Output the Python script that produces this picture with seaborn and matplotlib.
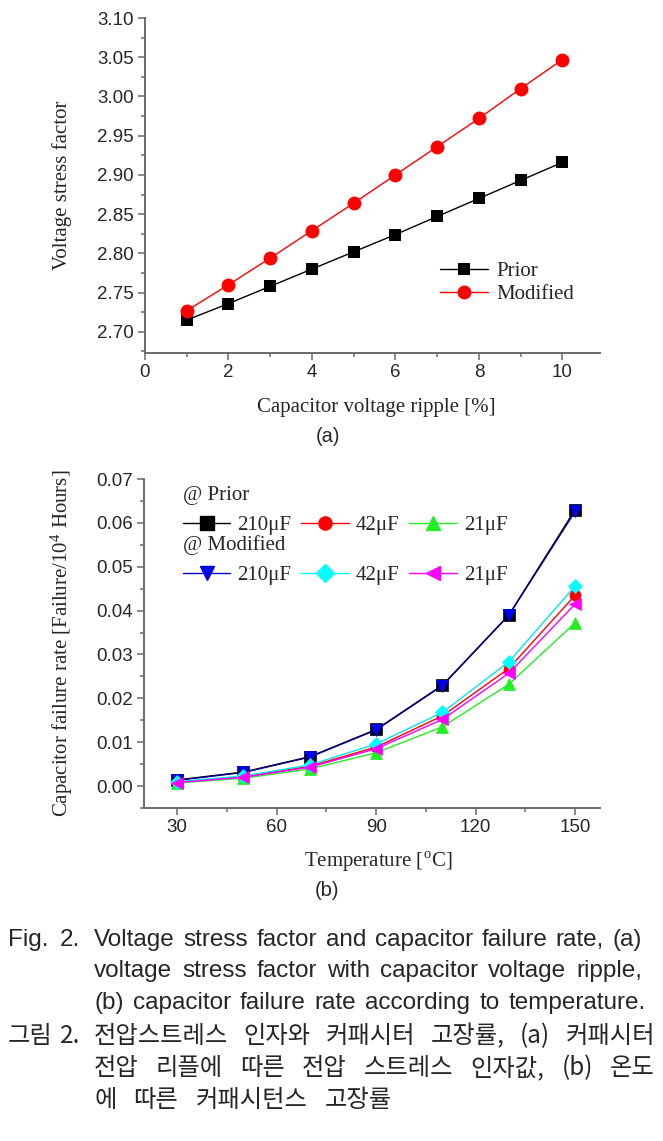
import numpy as np
import pandas as pd
import seaborn as sns
import matplotlib.pyplot as plt
from matplotlib.ticker import MultipleLocator
from matplotlib.lines import Line2D

# ---- data (a): voltage stress factor vs ripple
ripple = [1, 2, 3, 4, 5, 6, 7, 8, 9, 10]
vsf_prior = [2.715, 2.736, 2.758, 2.780, 2.802, 2.824, 2.847, 2.870, 2.893, 2.916]
vsf_modified = [2.727, 2.760, 2.794, 2.829, 2.864, 2.900, 2.936, 2.972, 3.010, 3.047]

# ---- data (b): failure rate vs temperature
temp = [30, 50, 70, 90, 110, 130, 150]
prior_210 = [0.0014, 0.0032, 0.0067, 0.0129, 0.0230, 0.0390, 0.0630]
prior_42 = [0.0009, 0.0021, 0.0045, 0.0089, 0.0160, 0.0268, 0.0435]
prior_21 = [0.0007, 0.0018, 0.0039, 0.0076, 0.0135, 0.0232, 0.0372]
mod_210 = [0.0013, 0.0031, 0.0066, 0.0128, 0.0229, 0.0389, 0.0626]
mod_42 = [0.0010, 0.0023, 0.0048, 0.0096, 0.0168, 0.0283, 0.0456]
mod_21 = [0.0008, 0.0020, 0.0043, 0.0085, 0.0152, 0.0257, 0.0415]
cap_labels = ['210\u03bcF', '42\u03bcF', '21\u03bcF']

caption = [
    ('Fig.', '2.', 'Voltage stress factor and capacitor failure rate, (a)'),
    ('', '', 'voltage stress factor with capacitor voltage ripple,'),
    ('', '', '(b) capacitor failure rate according to temperature.'),
    ('그림', '2.', '전압스트레스 인자와 커패시터 고장률, (a) 커패시터'),
    ('', '', '전압 리플에 따른 전압 스트레스 인자값, (b) 온도'),
    ('', '', '에 따른 커패시턴스 고장률'),
]

sns.set_style('ticks')
plt.rcParams['font.family'] = ['Liberation Serif', 'DejaVu Sans']
plt.rcParams['mathtext.fontset'] = 'stix'

SPINE = '#6a6a6a'
LBL = 15
fig = plt.figure(figsize=(6.63, 11.41), dpi=100)
W, H = 663, 1141


def px_axes(l, t, r, b):
    return fig.add_axes([l / W, 1 - b / H, (r - l) / W, (b - t) / H])


def style_axes(ax):
    for s in ['top', 'right']:
        ax.spines[s].set_visible(False)
    for s in ['left', 'bottom']:
        ax.spines[s].set_color(SPINE)
        ax.spines[s].set_linewidth(1.4)
    ax.tick_params(which='major', direction='out', length=5, width=1.1, color=SPINE,
                   labelsize=13.5, pad=3)
    ax.tick_params(which='minor', direction='out', length=3, width=1.1, color=SPINE)
    for lab in ax.get_xticklabels() + ax.get_yticklabels():
        lab.set_fontfamily('Liberation Sans')


# ================= (a)
ax1 = px_axes(145, 18, 600, 353)
sns.lineplot(x=ripple, y=vsf_prior, ax=ax1, color='black', marker='s', markersize=9,
             markeredgewidth=0, linewidth=1, label='Prior')
sns.lineplot(x=ripple, y=vsf_modified, ax=ax1, color='red', marker='o', markersize=10,
             markeredgewidth=0, linewidth=1, label='Modified')
ax1.set_xlim(0, 10.9)
ax1.set_ylim(2.673, 3.10)
ax1.xaxis.set_major_locator(MultipleLocator(2))
ax1.xaxis.set_minor_locator(MultipleLocator(1))
ax1.yaxis.set_minor_locator(MultipleLocator(0.025))
ax1.set_yticks(np.arange(2.70, 3.101, 0.05))
ax1.set_yticklabels([f'{v:.2f}' for v in np.arange(2.70, 3.101, 0.05)])
style_axes(ax1)
ax1.set_xlabel('Capacitor voltage ripple [%]', fontsize=LBL)
ax1.set_ylabel('Voltage stress factor', fontsize=LBL)
ax1.xaxis.set_label_coords(0.508, -0.164)
ax1.xaxis.label.set_va('center')
ax1.yaxis.set_label_coords(-0.182, 0.5)
ax1.yaxis.label.set_va('center')
ax1.legend(loc='lower right', bbox_to_anchor=(0.985, 0.09), frameon=False, fontsize=LBL,
           handlelength=2.3, handletextpad=0.4, labelspacing=0.15)
fig.text(328 / W, 1 - 436 / H, '(a)', ha='center', va='center', fontsize=14.5,
         family='Liberation Sans')

# ================= (b)
ax2 = px_axes(144, 479, 600, 808)
series = [
    (prior_210, 'black', 'black', 's', 8),
    (prior_42, 'red', 'red', 'o', 8),
    (prior_21, '#22ee22', '#22ee22', '^', 8.5),
    (mod_210, '#0000ee', '#000090', 'v', 8.5),
    (mod_42, '#00ffff', '#00e5ee', 'D', 7.5),
    (mod_21, '#ff00ff', '#ff00ff', '<', 8.5),
]
handles = []
for vals, col, lc, mk, ms in series:
    sns.lineplot(x=temp, y=vals, ax=ax2, color=lc, marker=mk, markersize=ms,
                 markerfacecolor=col, markeredgecolor=col, markeredgewidth=0.5,
                 linewidth=1, legend=False)
    handles.append(Line2D([], [], color='#0000cc' if lc == '#000090' else col, marker=mk,
                          markersize=ms + 1.5, markerfacecolor=col, markeredgecolor=col,
                          linewidth=1))
ax2.set_xlim(20, 157.5)
ax2.set_ylim(-0.005, 0.07)
ax2.set_xticks([30, 60, 90, 120, 150])
ax2.xaxis.set_minor_locator(MultipleLocator(15))
ax2.yaxis.set_minor_locator(MultipleLocator(0.005))
ax2.set_yticks(np.arange(0, 0.0701, 0.01))
ax2.set_yticklabels([f'{v:.2f}' for v in np.arange(0, 0.0701, 0.01)])
style_axes(ax2)
ax2.set_xlabel(r'Temperature [$^\mathregular{o}$C]', fontsize=LBL)
ax2.set_ylabel(r'Capacitor failure rate [Failure/10$^\mathregular{4}$ Hours]', fontsize=LBL)
ax2.xaxis.set_label_coords(0.513, -0.164)
ax2.xaxis.label.set_va('center')
ax2.yaxis.set_label_coords(-0.18, 0.5)
ax2.yaxis.label.set_va('center')

leg_kw = dict(ncol=3, frameon=False, fontsize=LBL, title_fontsize=LBL, handlelength=2.3,
              handletextpad=0.3, columnspacing=0.5, alignment='left', borderpad=0.1,
              borderaxespad=0)
leg1 = ax2.legend(handles[:3], cap_labels, title='@ Prior', loc='upper left',
                  bbox_to_anchor=(0.08, 0.985), **leg_kw)
ax2.add_artist(leg1)
leg2 = ax2.legend(handles[3:], cap_labels, title='@ Modified', loc='upper left',
                  bbox_to_anchor=(0.08, 0.835), **leg_kw)
fig.text(327 / W, 1 - 890 / H, '(b)', ha='center', va='center', fontsize=14.5,
         family='Liberation Sans')

# ================= caption (justified word by word)
renderer = fig.canvas.get_renderer()


def put_line(text, x0, x1, y, fs, fam, gap=None):
    words = text.split()
    objs = [fig.text(0, 1 - y / H, w, ha='left', va='center', fontsize=fs, family=fam)
            for w in words]
    widths = [o.get_window_extent(renderer).width for o in objs]
    if gap is None:
        gap = (x1 - x0 - sum(widths)) / max(len(words) - 1, 1)
    x = x0
    for o, w in zip(objs, widths):
        o.set_x(x / W)
        x += w + gap
    return gap


ys = [940, 971, 1003, 1036, 1068, 1100]
ends = [642, 642, 646, 655, 655, None]
last_gap = None
for (a, b, c), y, x1 in zip(caption, ys, ends):
    kor = any('\uac00' <= ch <= '\ud7a3' for ch in a + c)
    fam = ['Noto Sans CJK KR', 'DejaVu Sans'] if kor else ['Liberation Sans', 'DejaVu Sans']
    fs = 17.5 if kor else 17.5
    if a:
        fig.text(8 / W, 1 - y / H, a, ha='left', va='center', fontsize=fs, family=fam)
        fig.text(60 / W, 1 - y / H, b, ha='left', va='center', fontsize=fs, family=fam)
    if x1 is None:
        put_line(c, 94, None, y, fs, fam, gap=last_gap)
    else:
        last_gap = put_line(c, 94, x1, y, fs, fam)

fig.savefig('out.png', dpi=100)
